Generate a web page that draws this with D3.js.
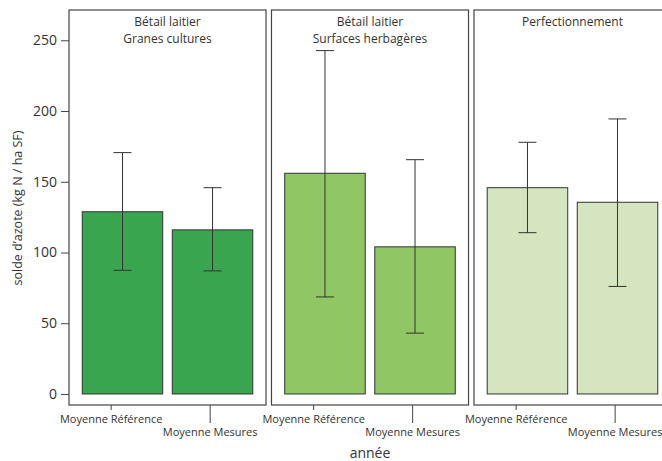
<!DOCTYPE html>
<html>
<head>
<meta charset="utf-8">
<title>Solde d'azote</title>
<script src="https://d3js.org/d3.v7.min.js"></script>
<style>
  body { margin: 0; background: #fff; }
  text { font-family: "Open Sans", sans-serif; fill: #333; }
</style>
</head>
<body>
<div id="container"></div>
<script>
//----------------------------DATA----------------------------//
const panels = ["Bétail laitier\nGranes cultures", "Bétail laitier\nSurfaces herbagères", "Perfectionnement"];
const categories = ["Moyenne Référence", "Moyenne Mesures"];
const means = [[128.8, 116], [156, 104], [145.8, 135.5]];
const lows = [[87.4, 87], [68.6, 43], [114, 76]];
const highs = [[170.6, 145.8], [242.7, 165.6], [177.9, 194.4]];
const colors = ["#39a64f", "#90c663", "#d4e5bf"];
const yTicks = [0, 50, 100, 150, 200, 250];

//----------------------------SVG-----------------------------//
const width = 662;
const height = 461;
const svg = d3.select("#container").append("svg")
    .attr("width", width)
    .attr("height", height);

//---------------------------SCALES---------------------------//
const fx = d3.scaleBand().domain(d3.range(panels.length))
    .range([69, 671]).paddingInner(0.027);
const x = d3.scaleBand().domain(categories)
    .range([0, fx.bandwidth()]).paddingInner(0.106).paddingOuter(0.147);
// tick marks sit a bit left of the bars, as in the original
const xt = d3.scalePoint().domain(categories)
    .range([0, fx.bandwidth()]).padding(0.495).align(0.43);
const y = d3.scaleLinear().domain([-7.8, 271.4]).range([405, 10]);

//----------------------------AXES----------------------------//
const yaxis = svg.append("g")
    .attr("transform", "translate(69,0)")
    .call(d3.axisLeft(y).tickValues(yTicks).tickSize(8).tickPadding(4));
yaxis.select(".domain").remove();
yaxis.selectAll(".tick line").attr("stroke", "#444");
yaxis.selectAll(".tick text").style("font-size", "14px").attr("fill", "#333");

svg.append("text")
    .attr("transform", "translate(18," + 208 + ") rotate(-90)")
    .attr("text-anchor", "middle")
    .attr("dy", "0.35em")
    .style("font-size", "12.5px")
    .style("font-weight", 500)
    .text("solde d\u2019azote (kg N / ha SF)");

svg.append("text")
    .attr("x", (fx.range()[0] + fx.range()[1]) / 2)
    .attr("y", 453)
    .attr("text-anchor", "middle")
    .attr("dy", "0.35em")
    .style("font-size", "14px")
    .text("année");

//---------------------------PANELS---------------------------//
const g = svg.selectAll(".panel")
    .data(panels)
    .enter().append("g")
    .attr("class", "panel")
    .attr("transform", (d, i) => "translate(" + fx(i) + ",0)");

g.append("rect")
    .attr("x", 0)
    .attr("y", y.range()[1])
    .attr("width", fx.bandwidth())
    .attr("height", y.range()[0] - y.range()[1])
    .attr("fill", "none")
    .attr("stroke", "#444")
    .attr("stroke-width", 1.2);

g.append("text")
    .attr("text-anchor", "middle")
    .style("font-size", "12px")
    .selectAll("tspan")
    .data(d => d.split("\n"))
    .enter().append("tspan")
    .attr("x", fx.bandwidth() / 2)
    .attr("y", (d, i) => 26 + i * 16.7)
    .text(d => d);

// x ticks and labels
g.each(function(p, pi) {
  const sel = d3.select(this);
  categories.forEach(function(c, ci) {
    const tx = xt(c);
    const len = ci === 0 ? 5 : 18;
    sel.append("line")
        .attr("x1", tx).attr("x2", tx)
        .attr("y1", y.range()[0]).attr("y2", y.range()[0] + len)
        .attr("stroke", "#444");
    sel.append("text")
        .attr("x", tx)
        .attr("y", ci === 0 ? 419 : 432)
        .attr("dy", "0.35em")
        .attr("text-anchor", "middle")
        .style("font-size", "11px")
        .text(c);
  });

  // bars
  sel.selectAll(".bar")
      .data(categories.map((c, ci) => ({ c: c, v: means[pi][ci], lo: lows[pi][ci], hi: highs[pi][ci] })))
      .enter().append("rect")
      .attr("class", "bar")
      .attr("x", d => x(d.c))
      .attr("y", d => y(d.v))
      .attr("width", x.bandwidth())
      .attr("height", d => y(0) - y(d.v))
      .attr("fill", colors[pi])
      .attr("stroke", "#333")
      .attr("stroke-width", 1);

  // error bars
  const eb = sel.selectAll(".err")
      .data(categories.map((c, ci) => ({ c: c, lo: lows[pi][ci], hi: highs[pi][ci] })))
      .enter().append("g")
      .attr("class", "err")
      .attr("stroke", "#333")
      .attr("stroke-width", 1);
  eb.append("line")
      .attr("x1", d => x(d.c) + x.bandwidth() / 2)
      .attr("x2", d => x(d.c) + x.bandwidth() / 2)
      .attr("y1", d => y(d.lo))
      .attr("y2", d => y(d.hi));
  ["lo", "hi"].forEach(function(k) {
    eb.append("line")
        .attr("x1", d => x(d.c) + x.bandwidth() / 2 - 9)
        .attr("x2", d => x(d.c) + x.bandwidth() / 2 + 9)
        .attr("y1", d => y(d[k]))
        .attr("y2", d => y(d[k]));
  });
});
</script>
</body>
</html>
